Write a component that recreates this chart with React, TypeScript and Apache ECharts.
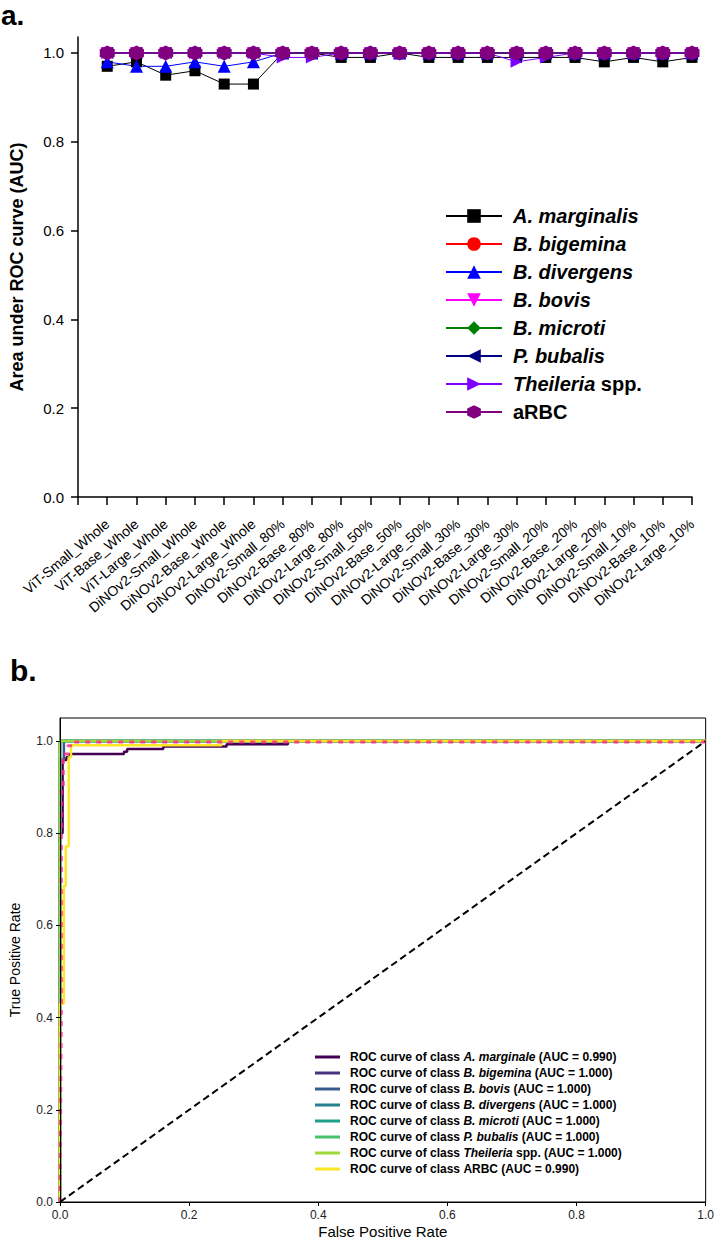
import React, { useEffect, useRef } from 'react';
import * as echarts from 'echarts';

// ---------- Panel a data ----------
const modelCategories = [
  'ViT-Small_Whole', 'ViT-Base_Whole', 'ViT-Large_Whole',
  'DiNOv2-Small_Whole', 'DiNOv2-Base_Whole', 'DiNOv2-Large_Whole',
  'DiNOv2-Small_80%', 'DiNOv2-Base_80%', 'DiNOv2-Large_80%',
  'DiNOv2-Small_50%', 'DiNOv2-Base_50%', 'DiNOv2-Large_50%',
  'DiNOv2-Small_30%', 'DiNOv2-Base_30%', 'DiNOv2-Large_30%',
  'DiNOv2-Small_20%', 'DiNOv2-Base_20%', 'DiNOv2-Large_20%',
  'DiNOv2-Small_10%', 'DiNOv2-Base_10%', 'DiNOv2-Large_10%',
];
const aMarginalis = [0.97, 0.98, 0.95, 0.96, 0.93, 0.93, 1.0, 1.0, 0.99, 0.99, 1.0, 0.99, 0.99, 0.99, 0.99, 0.99, 0.99, 0.98, 0.99, 0.98, 0.99];
const bBigemina = [1, 1, 1, 1, 1, 1, 1, 1, 1, 1, 1, 1, 1, 1, 1, 1, 1, 1, 1, 1, 1];
const bDivergens = [0.98, 0.97, 0.97, 0.98, 0.97, 0.98, 1, 1, 1, 1, 1, 1, 1, 1, 1, 1, 1, 1, 1, 1, 1];
const bBovis = [1, 1, 1, 1, 1, 1, 1, 1, 1, 1, 1, 1, 1, 1, 1, 1, 1, 1, 1, 1, 1];
const bMicroti = [1, 1, 1, 1, 1, 1, 1, 1, 1, 1, 1, 1, 1, 1, 1, 1, 1, 1, 1, 1, 1];
const pBubalis = [1, 1, 1, 1, 1, 1, 1, 1, 1, 1, 1, 1, 1, 1, 1, 1, 1, 1, 1, 1, 1];
const theileria = [1, 1, 1, 1, 1, 1, 0.99, 0.99, 1, 1, 1, 1, 1, 1, 0.98, 0.99, 1, 1, 1, 1, 1];
const aRBC = [1, 1, 1, 1, 1, 1, 1, 1, 1, 1, 1, 1, 1, 1, 1, 1, 1, 1, 1, 1, 1];
const aucTicks = [0, 0.2, 0.4, 0.6, 0.8, 1.0];

// ---------- Panel b data ----------
const rocMarginale = [[0, 0], [0, 0.8], [0.004, 0.8], [0.004, 0.959], [0.01, 0.959], [0.01, 0.965], [0.015, 0.965], [0.015, 0.972], [0.099, 0.972], [0.099, 0.977], [0.104, 0.977], [0.104, 0.983], [0.16, 0.983], [0.16, 0.988], [0.258, 0.988], [0.258, 0.993], [0.353, 0.993], [0.353, 1.0], [1, 1]];
const rocBigemina = [[0, 0], [0, 1], [1, 1]];
const rocBovis = [[0, 0], [0, 0.96], [0.006, 0.96], [0.006, 1], [1, 1]];
const rocDivergens = [[0, 0], [0, 1], [1, 1]];
const rocMicroti = [[0, 0], [0, 1], [1, 1]];
const rocBubalis = [[0, 0], [0, 1], [1, 1]];
const rocTheileria = [[0, 0], [0, 1], [1, 1]];
const rocARBC = [[0, 0], [0, 0.43], [0.006, 0.43], [0.006, 0.686], [0.009, 0.686], [0.009, 0.772], [0.0135, 0.772], [0.0135, 0.965], [0.017, 0.965], [0.017, 0.991], [0.25, 0.991], [0.25, 1.0], [1, 1]];
const rocMicro = [[0, 0], [0.002, 0.4], [0.002, 0.9], [0.005, 0.9], [0.005, 0.972], [0.012, 0.972], [0.012, 0.99], [0.02, 0.99], [0.02, 0.998], [1, 0.998]];
const chanceLine = [[0, 0], [1, 1]];
const rocTicks = [0, 0.2, 0.4, 0.6, 0.8, 1.0];

const rocPrefix = 'ROC curve of class ';
const rocClassItalic = ['A. marginale', 'B. bigemina', 'B. bovis', 'B. divergens', 'B. microti', 'P. bubalis', 'Theileria', ''];
const rocClassPlain = ['', '', '', '', '', '', ' spp.', 'ARBC'];
const rocAUC = ['0.990', '1.000', '1.000', '1.000', '1.000', '1.000', '1.000', '0.990'];
const rocColors = ['#440154', '#46327e', '#365c8d', '#277f8e', '#1fa187', '#4ac16d', '#a0da39', '#fde725'];
const rocData = [rocMarginale, rocBigemina, rocBovis, rocDivergens, rocMicroti, rocBubalis, rocTheileria, rocARBC];

const HEX = 'path://M5,0 L9.33,2.5 L9.33,7.5 L5,10 L0.67,7.5 L0.67,2.5 Z';
const TRI_DOWN = 'path://M0,0 L10,0 L5,10 Z';
const TRI_LEFT = 'path://M10,0 L10,10 L0,5 Z';
const TRI_RIGHT = 'path://M0,0 L10,5 L0,10 Z';

const topSeriesDefs = [
  { name: 'A. marginalis', italic: 'A. marginalis', plain: '', color: '#000000', symbol: 'rect', size: 11, values: aMarginalis },
  { name: 'B. bigemina', italic: 'B. bigemina', plain: '', color: '#ff0000', symbol: 'circle', size: 12, values: bBigemina },
  { name: 'B. divergens', italic: 'B. divergens', plain: '', color: '#0000ff', symbol: 'triangle', size: 13, values: bDivergens },
  { name: 'B. bovis', italic: 'B. bovis', plain: '', color: '#ff00ff', symbol: TRI_DOWN, size: 12, values: bBovis },
  { name: 'B. microti', italic: 'B. microti', plain: '', color: '#008000', symbol: 'diamond', size: 13, values: bMicroti },
  { name: 'P. bubalis', italic: 'P. bubalis', plain: '', color: '#000080', symbol: TRI_LEFT, size: 12, values: pBubalis },
  { name: 'Theileria spp.', italic: 'Theileria', plain: ' spp.', color: '#8000ff', symbol: TRI_RIGHT, size: 12, values: theileria },
  { name: 'aRBC', italic: '', plain: 'aRBC', color: '#800080', symbol: HEX, size: 15, values: aRBC },
];

export default function App() {
  const ref = useRef<HTMLDivElement>(null);
  useEffect(() => {
    if (!ref.current) return;
    const chart = echarts.init(ref.current, null, { renderer: 'svg' });
    const FONT = 'Arial, "Liberation Sans", sans-serif';

    const topSeries = topSeriesDefs.map((d) => ({
      name: d.name,
      type: 'line',
      xAxisIndex: 0,
      yAxisIndex: 0,
      data: d.values.map((v, i) => [i + 1, v]),
      symbol: d.symbol,
      symbolSize: d.size,
      color: d.color,
      lineStyle: { color: d.color, width: 1 },
      itemStyle: { color: d.color },
    }));

    const rocNames = rocData.map((_, i) => `${rocPrefix}${rocClassItalic[i]}${rocClassPlain[i]} (AUC = ${rocAUC[i]})`);
    const rocFormat: Record<string, string> = {};
    rocNames.forEach((n, i) => {
      let s = `{n|${rocPrefix}}`;
      if (rocClassItalic[i]) s += `{i|${rocClassItalic[i]}}`;
      if (rocClassPlain[i]) s += `{n|${rocClassPlain[i]}}`;
      s += `{n| (AUC = ${rocAUC[i]})}`;
      rocFormat[n] = s;
    });
    const topFormat: Record<string, string> = {};
    topSeriesDefs.forEach((d) => {
      let s = '';
      if (d.italic) s += `{i|${d.italic}}`;
      if (d.plain) s += `{n|${d.plain}}`;
      topFormat[d.name] = s;
    });

    const rocSeries: any[] = rocData.map((data, i) => ({
      name: rocNames[i],
      type: 'line',
      xAxisIndex: 1,
      yAxisIndex: 1,
      data,
      symbol: 'none',
      color: rocColors[i],
      lineStyle: { color: rocColors[i], width: 2.5 },
    }));
    rocSeries.push({
      name: 'micro-average',
      type: 'line',
      xAxisIndex: 1,
      yAxisIndex: 1,
      data: rocMicro,
      symbol: 'none',
      lineStyle: { color: '#ff2a8a', width: 3, type: [5, 6], opacity: 0.85 },
    });
    rocSeries.push({
      name: 'chance',
      type: 'line',
      xAxisIndex: 1,
      yAxisIndex: 1,
      data: chanceLine,
      symbol: 'none',
      lineStyle: { color: '#000000', width: 2, type: [7, 4] },
    });

    chart.setOption({
      animation: false,
      backgroundColor: '#ffffff',
      textStyle: { fontFamily: FONT },
      graphic: [
        { type: 'text', left: 1, top: 1, style: { text: 'a.', font: `bold 28px ${FONT}`, fill: '#000' } },
        { type: 'text', left: 10, top: 655, style: { text: 'b.', font: `bold 30px ${FONT}`, fill: '#000' } },
      ],
      grid: [
        { left: 77, top: 37, width: 615, height: 460, show: false },
        { left: 57, top: 718, width: 652, height: 484, show: true, borderColor: '#000', borderWidth: 1, backgroundColor: 'transparent' },
      ],
      xAxis: [
        {
          gridIndex: 0,
          type: 'value',
          min: 0,
          max: 21,
          interval: 1,
          splitLine: { show: false },
          axisLine: { show: true, onZero: false, lineStyle: { color: '#000', width: 1.5 } },
          axisTick: { show: true, length: 8, lineStyle: { color: '#000', width: 1.5 } },
          axisLabel: {
            rotate: 40,
            margin: 25,
            fontSize: 14,
            color: '#000',
            fontFamily: FONT,
            showMinLabel: true,
            showMaxLabel: true,
            hideOverlap: false,
            interval: 0,
            formatter: (v: number) => modelCategories[Math.round(v) - 1] ?? '',
          },
        },
        {
          gridIndex: 1,
          type: 'value',
          min: 0,
          max: 1,
          interval: 0.2,
          z: 5,
          name: 'False Positive Rate',
          nameLocation: 'middle',
          nameGap: 22,
          nameTextStyle: { fontSize: 15, color: '#000', fontFamily: FONT },
          splitLine: { show: false },
          axisLine: { show: true, onZero: false, lineStyle: { color: '#000', width: 1 } },
          axisTick: { show: true, length: 4, lineStyle: { color: '#000' } },
          axisLabel: { margin: 7, fontSize: 12, color: '#222', fontFamily: FONT, formatter: (v: number) => v.toFixed(1) },
        },
      ],
      yAxis: [
        {
          gridIndex: 0,
          type: 'value',
          min: 0,
          max: 1.036,
          name: 'Area under ROC curve (AUC)',
          nameLocation: 'middle',
          nameGap: 52,
          nameTextStyle: { fontSize: 18, fontWeight: 'bold', color: '#000', fontFamily: FONT },
          splitLine: { show: false },
          axisLine: { show: true, onZero: false, lineStyle: { color: '#000', width: 1.5 } },
          axisTick: { show: true, length: 7, customValues: aucTicks, lineStyle: { color: '#000', width: 1.5 } },
          axisLabel: { margin: 14, fontSize: 15, color: '#000', fontFamily: FONT, customValues: aucTicks, formatter: (v: number) => v.toFixed(1) },
        },
        {
          gridIndex: 1,
          type: 'value',
          min: 0,
          max: 1.05,
          z: 5,
          name: 'True Positive Rate',
          nameLocation: 'middle',
          nameGap: 38,
          nameTextStyle: { fontSize: 14, color: '#000', fontFamily: FONT },
          splitLine: { show: false },
          axisLine: { show: true, onZero: false, lineStyle: { color: '#000', width: 1 } },
          axisTick: { show: true, length: 4, customValues: rocTicks, lineStyle: { color: '#000' } },
          axisLabel: { margin: 7, fontSize: 12, color: '#222', fontFamily: FONT, customValues: rocTicks, formatter: (v: number) => v.toFixed(1) },
        },
      ],
      legend: [
        {
          data: topSeriesDefs.map((d) => d.name),
          orient: 'vertical',
          left: 440,
          top: 200,
          itemWidth: 56,
          itemHeight: 17,
          itemGap: 6,
          selectedMode: false,
          formatter: (n: string) => topFormat[n] ?? n,
          textStyle: {
            fontSize: 20,
            fontWeight: 'bold',
            color: '#000',
            lineHeight: 22,
            padding: [0, 0, 0, 6],
            rich: {
              i: { fontSize: 20, fontWeight: 'bold', fontStyle: 'italic', color: '#000', fontFamily: FONT, lineHeight: 22 },
              n: { fontSize: 20, fontWeight: 'bold', color: '#000', fontFamily: FONT, lineHeight: 22 },
            },
          },
        },
        {
          data: rocNames.map((n) => ({ name: n, icon: 'rect' })),
          orient: 'vertical',
          left: 310,
          top: 1045,
          itemWidth: 25,
          itemHeight: 3,
          itemGap: 2,
          selectedMode: false,
          formatter: (n: string) => rocFormat[n] ?? n,
          textStyle: {
            fontSize: 12,
            fontWeight: 'bold',
            color: '#000',
            lineHeight: 14,
            padding: [0, 0, 0, 5],
            rich: {
              i: { fontSize: 12, fontWeight: 'bold', fontStyle: 'italic', color: '#000', fontFamily: FONT, lineHeight: 14 },
              n: { fontSize: 12, fontWeight: 'bold', color: '#000', fontFamily: FONT, lineHeight: 14 },
            },
          },
        },
      ],
      series: [...topSeries, ...rocSeries],
    });
    return () => chart.dispose();
  }, []);
  return <div ref={ref} style={{ position: 'absolute', left: 0, top: 0, width: 717, height: 1240 }} />;
}
